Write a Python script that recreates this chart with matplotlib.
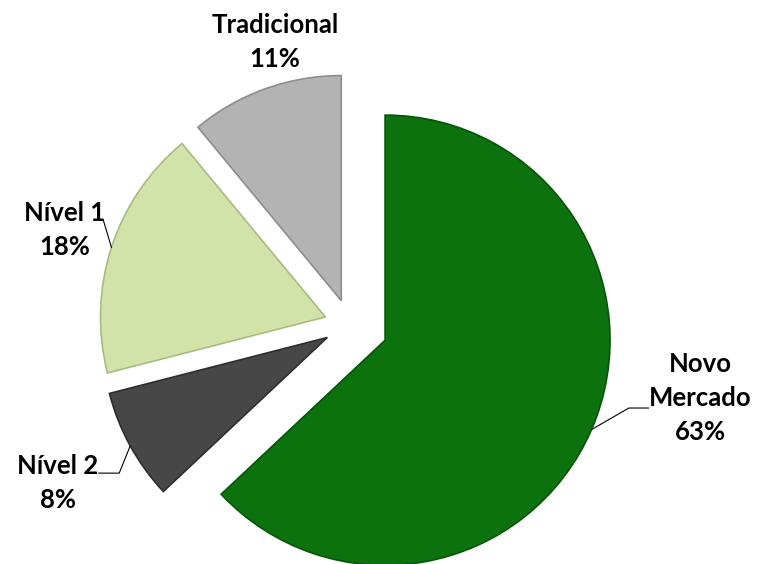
import matplotlib
matplotlib.use('Agg')
import matplotlib.pyplot as plt
import numpy as np

# Dados do gráfico (sentido horário a partir do topo)
segmentos = ['Novo\nMercado', 'Nível 2', 'Nível 1', 'Tradicional']
percentuais = [63, 8, 18, 11]
cores = ['#0b720e', '#474747', '#d2e3a9', '#b3b3b3']
bordas = ['#075507', '#2e2e2e', '#a9bb80', '#8e8e8e']
afastamento = [0.17, 0.115, 0.115, 0.115]

# Posição do texto de cada rótulo e do ponto de saída da linha de chamada
pos_rotulo = [(1.556, -0.324), (-1.298, -0.702), (-1.267, 0.422), (-0.333, 1.258)]
saida_linha = [(0.0, 0.39), (1.0, 0.67), (0.97, 0.68), None]
conexao = ['angle,angleA=0,angleB=30,rad=0', 'angle,angleA=0,angleB=68,rad=0',
           'arc3,rad=0', None]

fig = plt.figure(figsize=(7.63, 5.64), dpi=100)
ax = fig.add_axes([0, 0, 1, 1])

wedges, _ = ax.pie(percentuais, colors=cores, explode=afastamento, startangle=90,
                   counterclock=False, radius=1,
                   wedgeprops=dict(linewidth=1.2))
for w, b in zip(wedges, bordas):
  w.set_edgecolor(b)

ax.set_xlim(-1.556, 1.836)
ax.set_ylim(-1.062, 1.444)
ax.set_aspect('auto')
ax.axis('off')

# Rótulos com linhas de chamada
for w, nome, pct, pos, rel, con in zip(wedges, segmentos, percentuais, pos_rotulo, saida_linha, conexao):
  texto = f'{nome}\n{pct}%'
  fonte = dict(fontsize=18.5, fontweight='bold', family='Lato', ha='center',
               va='center', multialignment='center', linespacing=1.5, color='black')
  if rel is None:
    ax.text(pos[0], pos[1], texto, **fonte)
    continue
  # ponto no arco, no meio da fatia
  ang = np.deg2rad((w.theta1 + w.theta2) / 2)
  cx, cy = w.center
  ponto = (cx + w.r * np.cos(ang), cy + w.r * np.sin(ang))
  ax.annotate(texto, xy=ponto, xytext=pos, **fonte,
              arrowprops=dict(arrowstyle='-', color='black', lw=0.8, relpos=rel,
                              patchA=None, shrinkA=0, shrinkB=0, connectionstyle=con))

fig.savefig('out.png', dpi=100, facecolor='white')
